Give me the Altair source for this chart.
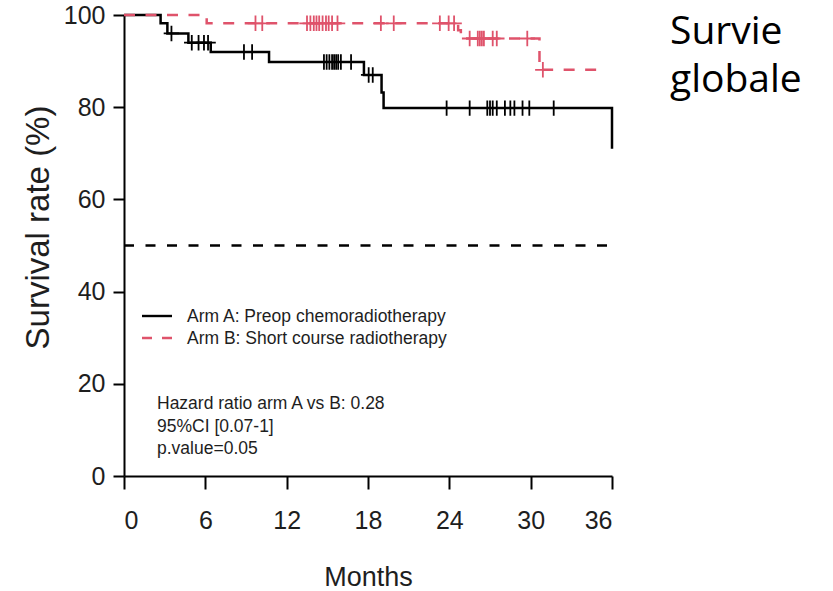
import altair as alt
import pandas as pd

# ---- data ----
arm_a_months = [0, 2.7, 3.2, 4.75, 6.4, 10.7, 17.7, 19.0, 19.15, 36.0]
arm_a_surv = [100, 98.2, 96.0, 94.0, 92.0, 89.8, 87.0, 83.2, 79.8, 71.0]
arm_a_censor = [3.5, 5.0, 5.5, 5.9, 6.2, 8.85, 9.45, 14.75, 14.95, 15.15, 15.35,
                15.5, 15.65, 15.8, 16.0, 16.75, 18.05, 18.35, 23.8, 25.5, 26.8,
                27.0, 27.2, 27.5, 28.1, 28.5, 28.8, 29.4, 29.9, 31.7]

arm_b_months = [0, 6.1, 24.65, 24.85, 30.65, 35.6]
arm_b_surv = [100, 98.2, 96.7, 94.9, 88.1, 88.1]
arm_b_censor = [9.7, 10.2, 13.5, 13.75, 14.0, 14.2, 14.4, 14.65, 14.9, 15.1,
                15.35, 15.75, 18.95, 19.9, 23.3, 23.95, 24.35, 25.5, 26.1,
                26.25, 26.4, 26.55, 27.2, 27.5, 29.75, 30.9]

median_line = [50, 50]
median_months = [0, 36]

x_ticks = [0, 6, 12, 18, 24, 30, 36]
y_ticks = [0, 20, 40, 60, 80, 100]

legend_labels = ["Arm A: Preop chemoradiotherapy", "Arm B: Short course radiotherapy"]
stats_lines = ["Hazard ratio arm A vs B: 0.28", "95%CI [0.07-1]", "p.value=0.05"]
side_title = ["Survie", "globale"]

RED = "#DF536B"
FONT = "'Liberation Sans', Arial, sans-serif"
TXT = "#1e1e1e"


def step_value(months, surv, t):
    v = surv[0]
    for m, s in zip(months, surv):
        if m <= t:
            v = s
    return v


df_a = pd.DataFrame({"m": arm_a_months, "s": arm_a_surv})
df_b = pd.DataFrame({"m": arm_b_months, "s": arm_b_surv})
cen_a = pd.DataFrame({"m": arm_a_censor,
                      "s": [step_value(arm_a_months, arm_a_surv, t) for t in arm_a_censor]})
cen_b = pd.DataFrame({"m": arm_b_censor,
                      "s": [step_value(arm_b_months, arm_b_surv, t) for t in arm_b_censor]})
df_med = pd.DataFrame({"m": median_months, "s": median_line})

x_enc = alt.X("m:Q", scale=alt.Scale(domain=[0, 36], nice=False, zero=False),
              axis=alt.Axis(values=x_ticks, title="Months", grid=False,
                            labelFont=FONT, labelFontSize=25, labelColor=TXT,
                            labelPadding=19, tickSize=13, tickWidth=2, tickColor="black",
                            domainColor="black", domainWidth=2,
                            titleFont=FONT, titleFontSize=27, titleFontWeight="normal",
                            titleColor=TXT, titleY=101, titleBaseline="middle"))
y_enc = alt.Y("s:Q", scale=alt.Scale(domain=[0, 100], nice=False),
              axis=alt.Axis(values=y_ticks, title="Survival rate (%)", grid=False,
                            labelFont=FONT, labelFontSize=25, labelColor=TXT,
                            labelPadding=8, tickSize=11, tickWidth=2, tickColor="black",
                            domainColor="black", domainWidth=2,
                            titleFont=FONT, titleFontSize=33, titleFontWeight="normal",
                            titleColor=TXT, titleX=-86, titleY=212,
                            titleBaseline="middle"))

PLUS = "M-1,0H1M0,-1V1"

med = alt.Chart(df_med).mark_line(color="black", strokeWidth=2.4,
                                  strokeDash=[10, 11.5]).encode(x=x_enc, y=y_enc)
line_a = alt.Chart(df_a).mark_line(interpolate="step-after", color="black",
                                   strokeWidth=2.5).encode(x=x_enc, y=y_enc)
pts_a = alt.Chart(cen_a).mark_point(shape=PLUS, size=240, filled=False,
                                    color="black", strokeWidth=1.8,
                                    opacity=1).encode(x=x_enc, y=y_enc)
line_b = alt.Chart(df_b).mark_line(interpolate="step-after", color=RED,
                                   strokeWidth=2.5, strokeDash=[11, 10.5]).encode(x=x_enc, y=y_enc)
pts_b = alt.Chart(cen_b).mark_point(shape=PLUS, size=240, filled=False,
                                    color=RED, strokeWidth=1.8,
                                    opacity=1).encode(x=x_enc, y=y_enc)

leg_a_line = alt.Chart().mark_rule(color="black", strokeWidth=2.4).encode(
    x=alt.value(18), x2=alt.value(48), y=alt.value(301))
leg_b_line = alt.Chart().mark_rule(color=RED, strokeWidth=2.4, strokeDash=[10, 10]).encode(
    x=alt.value(18), x2=alt.value(48), y=alt.value(323))
leg_a_txt = alt.Chart().mark_text(text=legend_labels[0], font=FONT, fontSize=17.5, color=TXT,
                                  align="left", baseline="middle").encode(
    x=alt.value(63), y=alt.value(302))
leg_b_txt = alt.Chart().mark_text(text=legend_labels[1], font=FONT, fontSize=17.5, color=TXT,
                                  align="left", baseline="middle").encode(
    x=alt.value(63), y=alt.value(324))

stat_layers = []
for i, line in enumerate(stats_lines):
    stat_layers.append(
        alt.Chart().mark_text(text=line, font=FONT, fontSize=17.5, color=TXT,
                              align="left", baseline="middle").encode(
            x=alt.value(33), y=alt.value(389 + 22.5 * i)))

side_layers = []
for i, word in enumerate(side_title):
    side_layers.append(
        alt.Chart().mark_text(text=word, font="Open Sans", fontSize=39, color="black",
                              align="left", baseline="alphabetic").encode(
            x=alt.value(546), y=alt.value(29 + 48 * i)))

chart = alt.layer(med, line_a, pts_a, line_b, pts_b,
                  leg_a_line, leg_b_line, leg_a_txt, leg_b_txt,
                  *stat_layers, *side_layers).properties(
    width=488, height=461,
    padding={"left": 124, "top": 15, "right": 221, "bottom": 115},
    autosize=alt.AutoSizeParams(type="none"),
    background="white",
).configure_view(stroke=None)

chart.save("out.html", embed_options={"renderer": "svg", "actions": False})
